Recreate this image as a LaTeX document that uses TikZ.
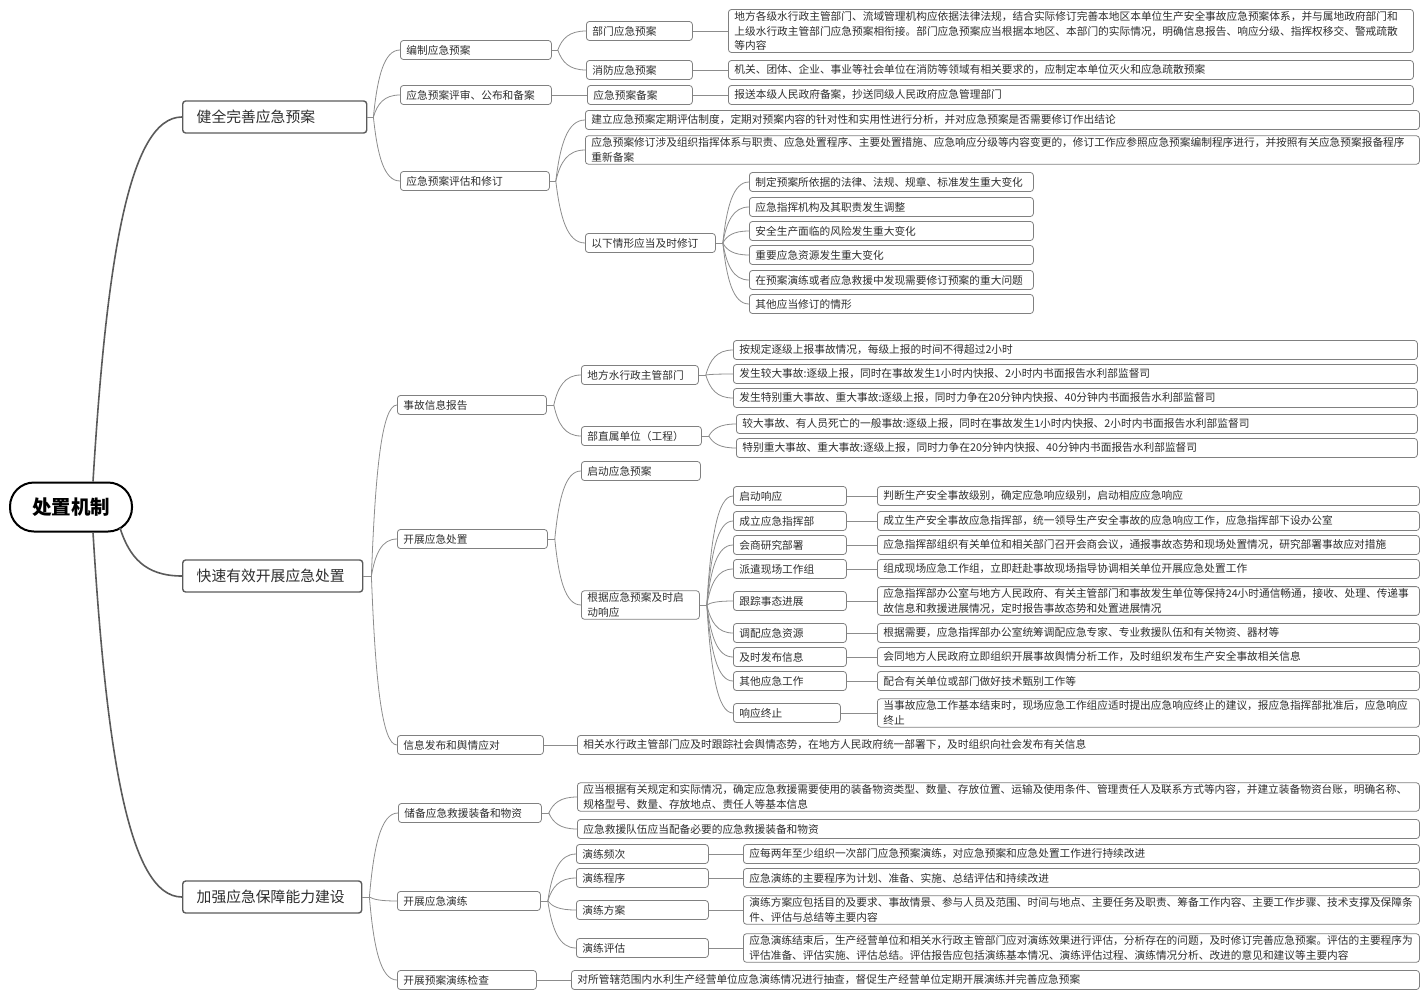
\documentclass[tikz,border=0pt]{standalone}
\usepackage{fontspec}
\newfontfamily\cjk{Noto Sans CJK SC}
\usetikzlibrary{calc}
\definecolor{linegray}{HTML}{8C8C8C}
\definecolor{boxgray}{HTML}{808080}
\definecolor{inkgray}{HTML}{2E2E2E}
\definecolor{topicgray}{HTML}{5A5A5A}
\tikzstyle{box} = [draw=boxgray, line width=0.8pt, rounded corners=3pt, anchor=west,
    align=left, inner xsep=6pt, inner ysep=2pt, minimum height=19pt,
    text=inkgray, font=\cjk\fontsize{10.7}{14.5}\selectfont]
\tikzstyle{topic} = [box, draw=topicgray, line width=1.4pt, inner xsep=14pt,
    minimum height=32pt, font=\cjk\fontsize{14.8}{18}\selectfont]
\tikzstyle{rootnode} = [draw=black, line width=2pt, rounded corners=24pt,
    minimum width=122pt, minimum height=49pt, text=black,
    font=\cjk\bfseries\fontsize{19.5}{22}\selectfont]
\tikzset{
  link/.style={draw=linegray, line width=0.8pt},
  mainlink/.style={draw=topicgray, line width=1.6pt},
  branch/.style={to path={let \p1=(\tikztostart), \p2=(\tikztotarget) in
      .. controls ({\x1+0.15*(\x2-\x1)},{\y1+0.6*(\y2-\y1)})
         and ({\x1+0.4*(\x2-\x1)},{\y2}) .. (\tikztotarget) \tikztonodes}}
}

\begin{document}
\begin{tikzpicture}[x=1pt,y=-1pt]
\useasboundingbox (0,0) rectangle (1420,990);
\begin{scope}
    \node[rootnode] (root) at (71,507) {处置机制};
    \node[topic, text width=156pt] (jq) at (182,117) {健全完善应急预案};
    \node[topic, text width=152pt] (ks) at (182,576) {快速有效开展应急处置};
    \node[topic, text width=151pt] (jb) at (182,897) {加强应急保障能力建设};
    \coordinate (r-up) at ([xshift=22pt]root.north);
    \coordinate (r-mid) at ([xshift=49pt,yshift=-21pt]root.center);
    \coordinate (r-dn) at ([xshift=22pt]root.south);
    \draw[mainlink] (r-up) to[branch] (jq.west);
    \draw[mainlink] (r-mid) to[branch] (ks.west);
    \draw[mainlink] (r-dn) to[branch] (jb.west);

    \node[box, text width=139pt] (bz) at (400,50) {编制应急预案};
    \node[box, text width=139pt] (ps) at (400,95) {应急预案评审、公布和备案};
    \node[box, text width=137pt] (pg) at (400,181) {应急预案评估和修订};
    \coordinate (jq-f) at ([xshift=6pt]jq.east);
    \draw[link] (jq.east) -- (jq-f);
    \foreach \c in {bz,ps,pg}
        \draw[link] (jq-f) to[branch] (\c.west);

    \node[box, text width=94pt] (bm) at (586,31) {部门应急预案};
    \node[box, text width=94pt] (xf) at (586,70) {消防应急预案};
    \node[box, text width=93pt] (ba) at (587,95) {应急预案备案};
    \coordinate (bz-f) at ([xshift=6pt]bz.east);
    \draw[link] (bz.east) -- (bz-f);
    \foreach \c in {bm,xf}
        \draw[link] (bz-f) to[branch] (\c.west);
    \draw[link] (ps) -- (ba);

    \node[box, text width=673pt] (bmt) at (728,31) {地方各级水行政主管部门、流域管理机构应依据法律法规，结合实际修订完善本地区本单位生产安全事故应急预案体系，并与属地政府部门和\\上级水行政主管部门应急预案相衔接。部门应急预案应当根据本地区、本部门的实际情况，明确信息报告、响应分级、指挥权移交、警戒疏散\\等内容};
    \node[box, text width=673pt] (xft) at (728,70) {机关、团体、企业、事业等社会单位在消防等领域有相关要求的，应制定本单位灭火和应急疏散预案};
    \node[box, text width=673pt] (bat) at (728,95) {报送本级人民政府备案，抄送同级人民政府应急管理部门};
    \draw[link] (bm) -- (bmt);
    \draw[link] (xf) -- (xft);
    \draw[link] (ba) -- (bat);

    \node[box, text width=822pt] (pg1) at (585,120) {建立应急预案定期评估制度，定期对预案内容的针对性和实用性进行分析，并对应急预案是否需要修订作出结论};
    \node[box, text width=822pt] (pg2) at (585,150) {应急预案修订涉及组织指挥体系与职责、应急处置程序、主要处置措施、应急响应分级等内容变更的，修订工作应参照应急预案编制程序进行，并按照有关应急预案报备程序\\重新备案};
    \node[box, text width=118pt] (yx) at (585,243) {以下情形应当及时修订};
    \coordinate (pg-f) at ([xshift=6pt]pg.east);
    \draw[link] (pg.east) -- (pg-f);
    \foreach \c in {pg1,pg2,yx}
        \draw[link] (pg-f) to[branch] (\c.west);

    \node[box, text width=272pt] (yx1) at (749,182) {制定预案所依据的法律、法规、规章、标准发生重大变化};
    \node[box, text width=272pt] (yx2) at (749,207) {应急指挥机构及其职责发生调整};
    \node[box, text width=272pt] (yx3) at (749,231) {安全生产面临的风险发生重大变化};
    \node[box, text width=272pt] (yx4) at (749,255) {重要应急资源发生重大变化};
    \node[box, text width=272pt] (yx5) at (749,280) {在预案演练或者应急救援中发现需要修订预案的重大问题};
    \node[box, text width=272pt] (yx6) at (749,304) {其他应当修订的情形};
    \coordinate (yx-f) at ([xshift=7pt]yx.east);
    \draw[link] (yx.east) -- (yx-f);
    \foreach \c in {yx1,yx2,yx3,yx4,yx5,yx6}
        \draw[link] (yx-f) to[branch] (\c.west);

    \node[box, text width=137pt] (sg) at (397,405) {事故信息报告};
    \node[box, text width=138pt] (cz) at (397,539) {开展应急处置};
    \node[box, text width=134pt] (xx) at (397,745) {信息发布和舆情应对};
    \coordinate (ks-f) at ([xshift=8pt]ks.east);
    \draw[link] (ks.east) -- (ks-f);
    \foreach \c in {sg,cz,xx}
        \draw[link] (ks-f) to[branch] (\c.west);

    \node[box, text width=105pt] (df) at (581,375) {地方水行政主管部门};
    \node[box, text width=108pt] (zs) at (581,436) {部直属单位（工程）};
    \coordinate (sg-f) at ([xshift=7pt]sg.east);
    \draw[link] (sg.east) -- (sg-f);
    \foreach \c in {df,zs}
        \draw[link] (sg-f) to[branch] (\c.west);

    \node[box, text width=672pt] (df1) at (733,350) {按规定逐级上报事故情况，每级上报的时间不得超过2小时};
    \node[box, text width=672pt] (df2) at (733,374) {发生较大事故:逐级上报，同时在事故发生1小时内快报、2小时内书面报告水利部监督司};
    \node[box, text width=672pt] (df3) at (733,398) {发生特别重大事故、重大事故:逐级上报，同时力争在20分钟内快报、40分钟内书面报告水利部监督司};
    \coordinate (df-f) at ([xshift=7pt]df.east);
    \draw[link] (df.east) -- (df-f);
    \foreach \c in {df1,df2,df3}
        \draw[link] (df-f) to[branch] (\c.west);

    \node[box, text width=669pt] (zs1) at (736,424) {较大事故、有人员死亡的一般事故:逐级上报，同时在事故发生1小时内快报、2小时内书面报告水利部监督司};
    \node[box, text width=669pt] (zs2) at (736,448) {特别重大事故、重大事故:逐级上报，同时力争在20分钟内快报、40分钟内书面报告水利部监督司};
    \coordinate (zs-f) at ([xshift=7pt]zs.east);
    \draw[link] (zs.east) -- (zs-f);
    \foreach \c in {zs1,zs2}
        \draw[link] (zs-f) to[branch] (\c.west);

    \node[box, text width=107pt] (qd) at (581,471) {启动应急预案};
    \node[box, text width=106pt] (gj) at (581,605) {根据应急预案及时启\\动响应};
    \coordinate (cz-f) at ([xshift=7pt]cz.east);
    \draw[link] (cz.east) -- (cz-f);
    \foreach \c in {qd,gj}
        \draw[link] (cz-f) to[branch] (\c.west);

    \node[box, text width=101pt] (xy1) at (733,496) {启动响应};
    \node[box, text width=101pt] (xy2) at (733,521) {成立应急指挥部};
    \node[box, text width=101pt] (xy3) at (733,545) {会商研究部署};
    \node[box, text width=101pt] (xy4) at (733,569) {派遣现场工作组};
    \node[box, text width=101pt] (xy5) at (733,601) {跟踪事态进展};
    \node[box, text width=101pt] (xy6) at (733,633) {调配应急资源};
    \node[box, text width=101pt] (xy7) at (733,657) {及时发布信息};
    \node[box, text width=101pt] (xy8) at (733,681) {其他应急工作};
    \node[box, text width=95pt] (xy9) at (733,713) {响应终止};
    \coordinate (gj-f) at ([xshift=7pt]gj.east);
    \draw[link] (gj.east) -- (gj-f);
    \foreach \c in {xy1,xy2,xy3,xy4,xy5,xy6,xy7,xy8,xy9}
        \draw[link] (gj-f) to[branch] (\c.west);

    \node[box, text width=530pt] (xt1) at (877,496) {判断生产安全事故级别，确定应急响应级别，启动相应应急响应};
    \node[box, text width=530pt] (xt2) at (877,521) {成立生产安全事故应急指挥部，统一领导生产安全事故的应急响应工作，应急指挥部下设办公室};
    \node[box, text width=530pt] (xt3) at (877,545) {应急指挥部组织有关单位和相关部门召开会商会议，通报事故态势和现场处置情况，研究部署事故应对措施};
    \node[box, text width=530pt] (xt4) at (877,569) {组成现场应急工作组，立即赶赴事故现场指导协调相关单位开展应急处置工作};
    \node[box, text width=530pt] (xt5) at (877,601) {应急指挥部办公室与地方人民政府、有关主管部门和事故发生单位等保持24小时通信畅通，接收、处理、传递事\\故信息和救援进展情况，定时报告事故态势和处置进展情况};
    \node[box, text width=530pt] (xt6) at (877,633) {根据需要，应急指挥部办公室统筹调配应急专家、专业救援队伍和有关物资、器材等};
    \node[box, text width=530pt] (xt7) at (877,657) {会同地方人民政府立即组织开展事故舆情分析工作，及时组织发布生产安全事故相关信息};
    \node[box, text width=530pt] (xt8) at (877,681) {配合有关单位或部门做好技术甄别工作等};
    \node[box, text width=530pt] (xt9) at (877,713) {当事故应急工作基本结束时，现场应急工作组应适时提出应急响应终止的建议，报应急指挥部批准后，应急响应\\终止};
    \foreach \i in {1,...,9}
        \draw[link] (xy\i) -- (xt\i);

    \node[box, text width=830pt] (xxt) at (577,745) {相关水行政主管部门应及时跟踪社会舆情态势，在地方人民政府统一部署下，及时组织向社会发布有关信息};
    \draw[link] (xx) -- (xxt);

    \node[box, text width=131pt] (cb) at (398,813) {储备应急救援装备和物资};
    \node[box, text width=131pt] (yl) at (397,901) {开展应急演练};
    \node[box, text width=127pt] (jc) at (397,980) {开展预案演练检查};
    \coordinate (jb-f) at ([xshift=7pt]jb.east);
    \draw[link] (jb.east) -- (jb-f);
    \foreach \c in {cb,yl,jc}
        \draw[link] (jb-f) to[branch] (\c.west);

    \node[box, text width=830pt] (cb1) at (577,797) {应当根据有关规定和实际情况，确定应急救援需要使用的装备物资类型、数量、存放位置、运输及使用条件、管理责任人及联系方式等内容，并建立装备物资台账，明确名称、\\规格型号、数量、存放地点、责任人等基本信息};
    \node[box, text width=830pt] (cb2) at (577,829) {应急救援队伍应当配备必要的应急救援装备和物资};
    \coordinate (cb-f) at ([xshift=7pt]cb.east);
    \draw[link] (cb.east) -- (cb-f);
    \foreach \c in {cb1,cb2}
        \draw[link] (cb-f) to[branch] (\c.west);

    \node[box, text width=120pt] (yl1) at (576,854) {演练频次};
    \node[box, text width=120pt] (yl2) at (576,878) {演练程序};
    \node[box, text width=120pt] (yl3) at (576,910) {演练方案};
    \node[box, text width=120pt] (yl4) at (576,948) {演练评估};
    \coordinate (yl-f) at ([xshift=7pt]yl.east);
    \draw[link] (yl.east) -- (yl-f);
    \foreach \c in {yl1,yl2,yl3,yl4}
        \draw[link] (yl-f) to[branch] (\c.west);

    \node[box, text width=664pt] (ylt1) at (743,854) {应每两年至少组织一次部门应急预案演练，对应急预案和应急处置工作进行持续改进};
    \node[box, text width=664pt] (ylt2) at (743,878) {应急演练的主要程序为计划、准备、实施、总结评估和持续改进};
    \node[box, text width=664pt] (ylt3) at (743,910) {演练方案应包括目的及要求、事故情景、参与人员及范围、时间与地点、主要任务及职责、筹备工作内容、主要工作步骤、技术支撑及保障条\\件、评估与总结等主要内容};
    \node[box, text width=664pt] (ylt4) at (743,948) {应急演练结束后，生产经营单位和相关水行政主管部门应对演练效果进行评估，分析存在的问题，及时修订完善应急预案。评估的主要程序为\\评估准备、评估实施、评估总结。评估报告应包括演练基本情况、演练评估过程、演练情况分析、改进的意见和建议等主要内容};
    \foreach \i in {1,...,4}
        \draw[link] (yl\i) -- (ylt\i);

    \node[box, text width=836pt] (jct) at (571,980) {对所管辖范围内水利生产经营单位应急演练情况进行抽查，督促生产经营单位定期开展演练并完善应急预案};
    \draw[link] (jc) -- (jct);
\end{scope}
\end{tikzpicture}
\end{document}
